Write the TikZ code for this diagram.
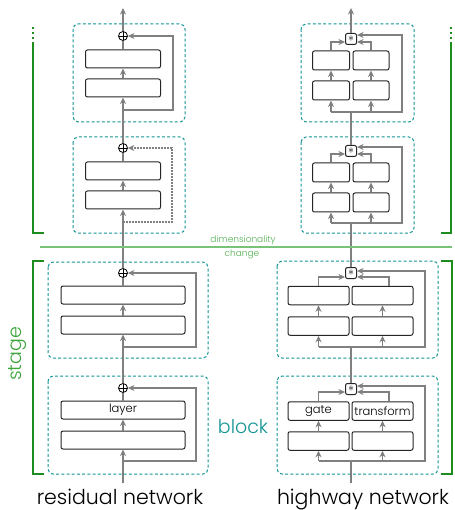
\documentclass[tikz,border=0pt]{standalone}
\usepackage{fontspec}
\setmainfont{Poppins Light}
\usetikzlibrary{arrows.meta,calc}
\definecolor{flowgray}{RGB}{128,128,128}
\definecolor{blkteal}{RGB}{20,148,148}
\definecolor{brkgreen}{RGB}{30,140,30}
\definecolor{stagegreen}{RGB}{60,165,60}
\definecolor{dimgreen}{RGB}{120,195,120}
\definecolor{dimtext}{RGB}{80,175,80}
\begin{document}
\begin{tikzpicture}[x=1pt,y=-1pt,
  lbox/.style={draw=black!85,line width=1pt,rounded corners=2pt,fill=white,inner sep=0pt,font=\fontsize{11.5}{13}\selectfont},
  blk/.style={draw=blkteal,dash pattern=on 3pt off 2.2pt,line width=1pt,rounded corners=5pt},
  flow/.style={draw=flowgray,line width=1.8pt},
  arr/.style={flow,-{Stealth[length=6.5pt,width=6pt,inset=2pt]}},
  dotflow/.style={arr,dash pattern=on 1.6pt off 1.4pt},
  oplus/.style={circle,draw=black,line width=0.8pt,fill=white,minimum size=9pt,inner sep=0pt,
    path picture={\draw[line width=0.7pt] (path picture bounding box.north) -- (path picture bounding box.south)
      (path picture bounding box.west) -- (path picture bounding box.east);}},
  gbox/.style={draw=black!85,line width=1pt,fill=white,rounded corners=2pt,minimum size=11pt,inner sep=0pt,font=\fontsize{13}{13}\selectfont},
  brk/.style={draw=brkgreen,line width=1.5pt},
  brkdots/.style={brk,dash pattern=on 2pt off 3pt},
  dimline/.style={draw=dimgreen,line width=1.2pt}
]
\useasboundingbox (0,0) rectangle (454,510);

% ================= residual network =================
\draw[blk] (73,24) rectangle (185,122);
\draw[blk] (73,137) rectangle (185,233);
\draw[blk] (48,262) rectangle (208,358);
\draw[blk] (48,376) rectangle (208,474);

\node[lbox,minimum width=75pt,minimum height=18pt] (A2) at (123,59) {};
\node[lbox,minimum width=75pt,minimum height=18pt] (A1) at (123,88) {};
\node[lbox,minimum width=75pt,minimum height=18pt] (B2) at (123,171) {};
\node[lbox,minimum width=75pt,minimum height=18pt] (B1) at (123,200) {};
\node[lbox,minimum width=124pt,minimum height=18pt] (C2) at (123,295) {};
\node[lbox,minimum width=124pt,minimum height=18pt] (C1) at (123,325) {};
\node[lbox,minimum width=124pt,minimum height=18pt] (D2) at (123,410) {layer};
\node[lbox,minimum width=124pt,minimum height=18pt] (D1) at (123,440) {};

\node[oplus] (oA) at (123,36) {};
\node[oplus] (oB) at (123,148) {};
\node[oplus] (oC) at (123,273) {};
\node[oplus] (oD) at (123,388) {};

\coordinate (inL) at (123,483);
\coordinate (outL) at (123,8);
\coordinate (bA) at (123,110);
\coordinate (bB) at (123,222);
\coordinate (bC) at (123,347);
\coordinate (bD) at (123,461);

\draw[arr] (inL) -- (D1.south);
\draw[arr] (D1.north) -- (D2.south);
\draw[flow] (D2.north) -- (oD.south);
\draw[arr] (oD.north) -- (C1.south);
\draw[arr] (C1.north) -- (C2.south);
\draw[flow] (C2.north) -- (oC.south);
\draw[arr] (oC.north) -- (B1.south);
\draw[arr] (B1.north) -- (B2.south);
\draw[flow] (B2.north) -- (oB.south);
\draw[arr] (oB.north) -- (A1.south);
\draw[arr] (A1.north) -- (A2.south);
\draw[flow] (A2.north) -- (oA.south);
\draw[arr] (oA.north) -- (outL);

\draw[arr] (bD) -- (196,461) |- (oD.east);
\draw[arr] (bC) -- (196,347) |- (oC.east);
\draw[dotflow] (bB) -- (172,222) |- (oB.east);
\draw[arr] (bA) -- (173,110) |- (oA.east);

% ================= highway network =================
\draw[blk] (301,24) rectangle (414,122);
\draw[blk] (301,137) rectangle (414,233);
\draw[blk] (277,261) rectangle (438,358);
\draw[blk] (277,376) rectangle (438,474);

\node[lbox,minimum width=37pt,minimum height=19pt] (EL2) at (331,60.5) {};
\node[lbox,minimum width=36pt,minimum height=19pt] (ER2) at (371,60.5) {};
\node[lbox,minimum width=37pt,minimum height=19pt] (EL1) at (331,90.5) {};
\node[lbox,minimum width=36pt,minimum height=19pt] (ER1) at (371,90.5) {};
\node[lbox,minimum width=37pt,minimum height=19pt] (FL2) at (331,172.5) {};
\node[lbox,minimum width=36pt,minimum height=19pt] (FR2) at (371,172.5) {};
\node[lbox,minimum width=37pt,minimum height=19pt] (FL1) at (331,202.5) {};
\node[lbox,minimum width=36pt,minimum height=19pt] (FR1) at (371,202.5) {};
\node[lbox,minimum width=61pt,minimum height=18.5pt] (GL2) at (318.5,295.5) {};
\node[lbox,minimum width=61pt,minimum height=18.5pt] (GR2) at (382.5,295.5) {};
\node[lbox,minimum width=61pt,minimum height=18.5pt] (GL1) at (318.5,326) {};
\node[lbox,minimum width=61pt,minimum height=18.5pt] (GR1) at (382.5,326) {};
\node[lbox,minimum width=61pt,minimum height=18.5pt] (HL2) at (318.5,411) {gate};
\node[lbox,minimum width=61pt,minimum height=18.5pt] (HR2) at (382.5,411) {transform};
\node[lbox,minimum width=61pt,minimum height=18.5pt] (HL1) at (318.5,441) {};
\node[lbox,minimum width=61pt,minimum height=18.5pt] (HR1) at (382.5,441) {};

\node[gbox] (sE) at (351,39) {$\ast$};
\node[gbox] (sF) at (351,151) {$\ast$};
\node[gbox] (sG) at (351,273) {$\ast$};
\node[gbox] (sH) at (351,389) {$\ast$};

\coordinate (inR) at (351,483);
\coordinate (outR) at (351,8);
\coordinate (hE) at (351,112);
\coordinate (hF) at (351,223);
\coordinate (hG) at (351,347);
\coordinate (hH) at (351,461);

% block H
\draw[flow] (inR) -- (hH);
\draw[arr] (HL1.south |- hH) -- (425,461) |- ($(sH.east)+(0,-3)$);
\draw[arr] (HL1.south |- hH) -- (HL1.south);
\draw[arr] (HR1.south |- hH) -- (HR1.south);
\draw[arr] (HL1.north) -- (HL2.south);
\draw[arr] (HR1.north) -- (HR2.south);
\draw[arr] (HL2.north) |- ($(sH.west)+(0,3)$);
\draw[arr] ($(HR2.north)+(6.5,0)$) |- ($(sH.east)+(0,3)$);
\draw[flow] (sH.north) -- (hG);
% block G
\draw[arr] (GL1.south |- hG) -- (425,347) |- ($(sG.east)+(0,-2)$);
\draw[arr] (GL1.south |- hG) -- (GL1.south);
\draw[arr] (GR1.south |- hG) -- (GR1.south);
\draw[arr] (GL1.north) -- (GL2.south);
\draw[arr] (GR1.north) -- (GR2.south);
\draw[arr] (GL2.north) |- ($(sG.west)+(0,4)$);
\draw[arr] ($(GR2.north)+(6.5,0)$) |- ($(sG.east)+(0,4)$);
\draw[flow] (sG.north) -- (hF);
% block F
\draw[arr] (FL1.south |- hF) -- (402,223) |- ($(sF.east)+(0,-4)$);
\draw[arr] (FL1.south |- hF) -- (FL1.south);
\draw[arr] (FR1.south |- hF) -- (FR1.south);
\draw[arr] (FL1.north) -- (FL2.south);
\draw[arr] (FR1.north) -- (FR2.south);
\draw[arr] (FL2.north) |- ($(sF.west)+(0,3)$);
\draw[arr] (FR2.north) |- ($(sF.east)+(0,3)$);
\draw[flow] (sF.north) -- (hE);
% block E
\draw[arr] (EL1.south |- hE) -- (402,112) |- ($(sE.east)+(0,-4)$);
\draw[arr] (EL1.south |- hE) -- (EL1.south);
\draw[arr] (ER1.south |- hE) -- (ER1.south);
\draw[arr] (EL1.north) -- (EL2.south);
\draw[arr] (ER1.north) -- (ER2.south);
\draw[arr] (EL2.north) |- ($(sE.west)+(0,3)$);
\draw[arr] (ER2.north) |- ($(sE.east)+(0,3)$);
\draw[arr] (sE.north) -- (outR);

% ================= stage brackets & labels =================
\draw[brkdots] (33,27) -- (33,42);
\draw[brk] (33,42) -- (33,233) -- (44,233);
\draw[brkdots] (451,27) -- (451,42);
\draw[brk] (451,42) -- (451,233) -- (441,233);
\draw[brk] (44,261) -- (33,261) -- (33,474) -- (44,474);
\draw[brk] (441,261) -- (452,261) -- (452,474) -- (441,474);

\draw[dimline] (40,247) -- (452,247);
\node[font=\fontsize{9}{10}\selectfont,text=dimtext,inner sep=0pt] (dimA) at (243,240) {dimensionality};
\node[font=\fontsize{9}{10}\selectfont,text=dimtext,inner sep=0pt] (dimB) at (242,254) {change};

\node[rotate=90,font=\fontsize{19}{21}\selectfont,text=stagegreen,inner sep=0pt] (stage) at (18,354) {stage};
\node[font=\fontsize{19}{21}\selectfont,text=blkteal,inner sep=0pt,anchor=base] (blocklbl) at (243,433) {block};

\node[font=\fontsize{20.5}{23}\selectfont,inner sep=0pt,anchor=base] (resnet) at (120,504) {residual network};
\node[font=\fontsize{20.5}{23}\selectfont,inner sep=0pt,anchor=base] (hwnet) at (363,504) {highway network};
\end{tikzpicture}
\end{document}
